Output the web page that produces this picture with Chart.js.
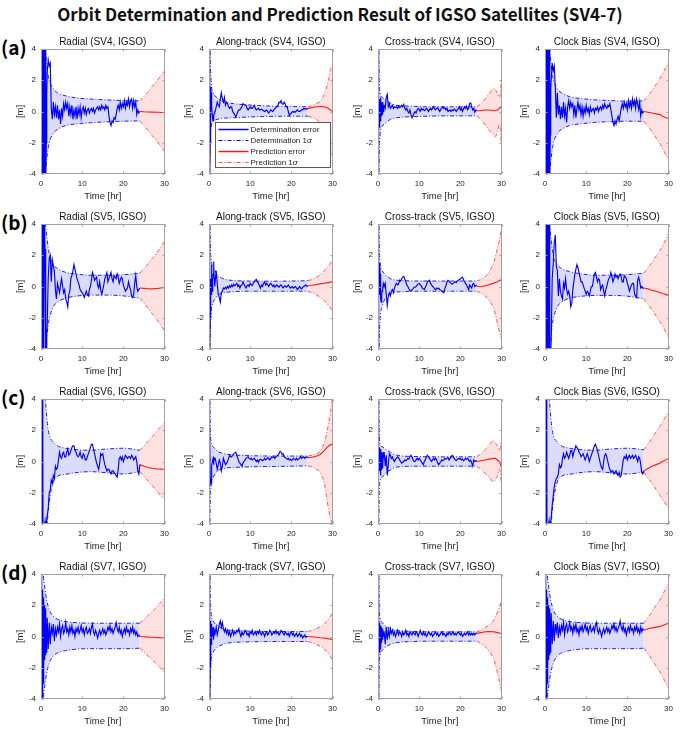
<!DOCTYPE html>
<html><head><meta charset="utf-8">
<script src="https://cdn.jsdelivr.net/npm/chart.js@4.4.1/dist/chart.umd.min.js"></script>
<style>
html,body{margin:0;padding:0;background:#fff;}
body{width:680px;height:730px;position:relative;overflow:hidden;}
#title{position:absolute;left:0;top:1px;width:680px;text-align:center;font-weight:bold;font-size:17px;font-family:'Noto Sans CJK KR','Noto Sans',sans-serif;color:#111;line-height:26px;}
.rowlab{position:absolute;left:1px;font-weight:bold;font-size:19px;font-family:'Noto Sans CJK KR','Noto Sans',sans-serif;color:#000;line-height:20px;}
canvas{position:absolute;}
</style></head><body>
<div id="title">Orbit Determination and Prediction Result of IGSO Satellites (SV4-7)</div>
<script>
// ---------- shared axes / categories ----------
const components = ['Radial','Along-track','Cross-track','Clock Bias'];
const satellites = ['SV4','SV5','SV6','SV7'];
const rowLabels = ['(a)','(b)','(c)','(d)'];
const xTicks = [0,10,20,30];
const yTicks = [-4,-2,0,2,4];
const sigT  = [0,0.2,0.5,1,1.5,2,3,4,6,9,12,16,20,24];
const predT = [24,25,26,27,28,28.5,29,29.5,30];

// ---------- row (a) SV4 ----------
const errEarlyA1 = [8,-8,7,-7,7,-7,6,-6,6,-6,5,-5,-4.5,-2,1];
const errA1 = [2.5,3.3,2.9,3.1,0.2,-0.5,0.6,-0.2,0.3,-0.4,
 0.4,-0.5,0.1,-0.8,0.2,-0.3,0.5,0.1,0.6,0.2,
 0.5,-0.3,0.3,-0.2,0.4,-0.5,0.1,-0.3,0.3,-0.5,
 0.2,-0.2,0.3,-0.4,0.1,0.3,-0.1,0.2,-0.2,0.1,
 0.2,-0.1,0.1,0.2,0.0,0.2,-0.1,0.1,0.2,0.3,
 0.1,0.3,0.1,0.4,0.2,0.3,0.1,0.4,0.2,0.3,
 -0.3,-0.7,-0.9,-0.6,-0.7,-0.4,-0.5,-0.2,0.2,0.4,
 0.1,0.6,0.2,0.5,0.3,0.7,0.2,0.6,0.4,0.8,
 0.3,0.7,0.8,0.2,0.7,0.3,0.6,-0.2,0.1,-0.1,
 0.0];
const sigUpA1 = [30,15,7,4.3,2.8,2.0,1.45,1.2,1.0,0.86,0.8,0.74,0.7,0.68];
const sigLoA1 = [-30,-15,-7,-4.3,-2.8,-2.0,-1.4,-1.15,-0.9,-0.78,-0.72,-0.66,-0.62,-0.6];
const predUpA1 = [0.68,0.95,1.25,1.6,1.9,2.08,2.25,2.42,2.6];
const predLoA1 = [-0.6,-0.9,-1.2,-1.55,-1.85,-2.02,-2.2,-2.38,-2.55];
const predErrA1 = [0,-0.02,-0.03,-0.04,-0.05,-0.05,-0.06,-0.06,-0.07];

const errEarlyA2 = [6,4.5,-4.5,-2,1.6,1.2,0.8,0.3,-0.2,-0.5,-0.6,-0.4,-0.3,-0.1,0.0];
const errA2 = [0.0,0.3,0.6,0.4,0.3,0.8,1.2,0.8,0.6,0.9,
 0.4,0.6,0.5,0.3,0.2,0.3,0.3,0.0,-0.1,-0.2,
 -0.35,-0.2,0.0,0.1,0.1,0.2,0.3,0.5,0.45,0.4,
 0.4,0.2,0.1,0.2,0.3,0.2,0.2,0.3,0.4,0.2,
 0.1,0.15,0.2,0.1,0.1,0.15,0.1,0.05,0.0,0.05,
 0.1,0.0,-0.1,0.0,0.1,0.05,0.0,0.1,0.2,0.25,
 0.3,0.4,0.6,0.55,0.7,0.5,0.45,0.6,0.5,0.3,
 0.3,0.0,-0.25,-0.15,-0.1,0.0,-0.05,0.0,-0.05,0.05,
 0.1,0.0,0.0,0.05,0.1,0.1,0.2,0.15,0.2,0.15,
 0.2];
const sigUpA2 = [20,6,2.0,1.2,1.0,0.86,0.7,0.6,0.5,0.43,0.38,0.34,0.32,0.3];
const sigLoA2 = [-20,-3,-1.0,-0.6,-0.55,-0.5,-0.45,-0.42,-0.4,-0.36,-0.33,-0.31,-0.3,-0.3];
const predUpA2 = [0.3,0.38,0.5,0.65,1.1,1.5,2.0,2.7,2.9];
const predLoA2 = [-0.3,-0.38,-0.5,-0.75,-1.3,-1.7,-2.2,-2.7,-2.8];
const predErrA2 = [0.2,0.25,0.3,0.32,0.3,0.25,0.2,0.1,0.0];

const errEarlyA3 = [4.5,-4.5,0.9,-1.0,0.8,-0.6,0.9,-0.5,0.6,-0.3,0.5,-0.2,0.6,0.0,0.4];
const errA3 = [0.4,0.2,0.9,1.1,0.3,0.5,0.2,0.3,0.4,0.2,
 0.3,0.25,0.3,0.2,0.35,0.25,0.3,0.4,0.3,0.45,
 0.2,0.1,0.2,0.0,-0.1,0.1,-0.2,-0.4,-0.3,-0.1,
 0.0,-0.1,0.1,0.2,0.1,0.0,0.2,0.1,0.15,0.05,
 0.1,0.2,0.15,0.0,0.1,0.2,0.1,0.2,0.3,0.15,
 0.1,0.2,0.25,0.1,0.0,0.15,0.2,0.3,0.2,0.25,
 0.1,0.2,0.0,0.05,0.1,0.0,0.1,0.05,0.15,0.1,
 0.0,0.1,0.2,0.3,0.1,0.2,0.0,0.15,0.3,0.2,
 0.35,0.1,0.2,0.5,0.55,0.3,0.1,0.2,-0.05,0.1,
 0.05];
const sigUpA3 = [20,4,1.2,0.9,0.8,0.7,0.55,0.42,0.36,0.33,0.3,0.3,0.3,0.3];
const sigLoA3 = [-20,-5,-1.5,-0.95,-0.8,-0.7,-0.5,-0.42,-0.36,-0.32,-0.3,-0.28,-0.28,-0.27];
const predUpA3 = [0.3,0.5,0.8,1.15,1.45,1.4,1.15,0.9,2.2];
const predLoA3 = [-0.27,-0.5,-0.85,-1.2,-1.5,-1.6,-1.3,-0.8,-2.2];
const predErrA3 = [0.05,0.05,0.1,0.1,0.05,0.05,0.1,0.2,0.35];

const errEarlyA4 = [8,-8,7,-7,7,-7,6,-6,6,-6,5,-5,-4.5,-1.5,1.5];
const errA4 = [2.0,3.1,2.6,2.9,1.5,-0.4,1.2,-0.2,0.4,-0.5,
 0.3,-0.4,0.6,-0.3,0.2,-0.7,0.3,0.7,0.2,0.6,
 0.3,0.5,-0.2,0.4,-0.4,0.2,0.6,0.1,0.4,-0.2,
 0.3,-0.3,0.2,-0.1,0.4,0.0,0.2,-0.2,0.3,0.0,
 0.1,0.2,-0.1,0.2,0.1,0.3,0.0,0.2,0.3,0.1,
 0.4,0.2,0.5,0.3,0.2,0.4,0.3,0.5,0.1,-0.3,
 -0.7,-0.9,-0.6,-0.8,-0.5,-0.3,-0.6,-0.2,0.2,0.5,
 0.2,0.6,0.3,0.5,0.1,0.7,0.3,0.6,0.2,0.8,
 0.4,0.7,0.2,0.8,0.5,0.1,0.6,-0.3,0.1,-0.1,
 0.0];
const sigUpA4 = [30,15,7,4.5,3.0,2.1,1.45,1.2,0.95,0.82,0.75,0.7,0.66,0.68];
const sigLoA4 = [-30,-15,-7,-4.5,-3.0,-2.1,-1.4,-1.15,-0.9,-0.78,-0.7,-0.65,-0.62,-0.63];
const predUpA4 = [0.68,1.0,1.35,1.75,2.15,2.4,2.65,2.9,3.2];
const predLoA4 = [-0.63,-0.95,-1.3,-1.7,-2.1,-2.35,-2.6,-2.85,-3.1];
const predErrA4 = [0,-0.05,-0.1,-0.15,-0.2,-0.3,-0.35,-0.4,-0.45];

// ---------- row (b) SV5 ----------
const errEarlyB1 = [8,-8,7,-7,7,-7,6,-6,5,3,2.4,-1,-4.5,-4.2,-3];
const errB1 = [-2.5,0.5,1.8,2.0,0.3,1.7,1.3,1.0,-0.2,-0.8,
 0.2,-0.1,-0.4,0.1,0.5,0.0,-0.4,-0.2,-0.8,-1.0,
 -1.3,-0.5,-0.3,0.5,0.7,1.0,1.4,1.1,0.8,0.5,
 0.3,0.1,-0.2,-0.3,-0.4,-0.5,-0.7,-0.5,-0.3,-0.5,
 -0.6,-0.2,0.0,0.4,0.9,0.7,0.4,0.5,0.6,0.1,
 -0.1,0.3,-0.2,-0.5,-0.2,0.1,0.5,0.7,0.9,0.3,
 0.5,0.7,0.9,0.5,0.3,0.7,0.6,0.5,0.8,0.6,
 0.2,0.4,0.6,0.5,0.1,-0.1,-0.3,-0.2,-0.1,0.3,
 0.0,-0.2,-0.6,-0.7,-0.5,0.2,0.7,0.0,-0.3,-0.2,
 -0.1];
const sigUpB1 = [30,12,6,4.2,3.0,2.1,1.4,1.15,0.9,0.78,0.72,0.72,0.75,0.85];
const sigLoB1 = [-30,-12,-6,-4.2,-3.0,-2.1,-1.3,-1.0,-0.75,-0.6,-0.55,-0.55,-0.6,-0.75];
const predUpB1 = [0.85,1.15,1.45,1.8,2.1,2.3,2.5,2.7,2.9];
const predLoB1 = [-0.75,-1.05,-1.4,-1.75,-2.05,-2.25,-2.45,-2.65,-2.85];
const predErrB1 = [-0.1,-0.12,-0.14,-0.15,-0.13,-0.12,-0.1,-0.08,-0.06];

const errEarlyB2 = [6,4,-4.5,-2,0.5,-0.5,1.4,0.5,-0.3,0.4,0.8,1.6,1.2,0.5,0.0];
const errB2 = [0.3,1.0,0.2,-0.5,-0.7,-1.0,-0.4,-0.3,-0.1,-0.15,
 -0.05,-0.15,0.0,-0.1,0.05,-0.05,0.1,0.0,0.15,0.05,
 0.1,0.2,0.0,0.1,-0.1,0.05,0.1,0.3,0.15,0.0,
 -0.1,0.05,0.1,0.0,0.2,0.1,0.05,0.2,0.3,0.4,
 0.45,0.3,0.2,0.05,-0.1,0.1,0.0,0.2,0.3,0.1,
 0.2,0.1,0.0,0.15,0.2,0.1,0.0,0.1,-0.05,0.05,
 0.1,0.0,-0.05,0.05,0.1,0.0,-0.1,0.0,0.05,-0.05,
 0.0,0.1,0.0,-0.1,-0.05,0.0,-0.1,-0.05,0.0,-0.1,
 -0.2,-0.1,0.0,-0.1,-0.15,-0.05,0.0,0.05,0.1,0.0,
 0.05];
const sigUpB2 = [20,5,1.8,1.3,1.0,0.75,0.55,0.45,0.38,0.35,0.34,0.34,0.35,0.37];
const sigLoB2 = [-20,-5,-1.8,-1.0,-0.8,-0.6,-0.45,-0.38,-0.33,-0.3,-0.3,-0.3,-0.3,-0.3];
const predUpB2 = [0.37,0.45,0.58,0.75,1.0,1.15,1.3,1.5,1.72];
const predLoB2 = [-0.3,-0.4,-0.52,-0.7,-0.92,-1.05,-1.2,-1.38,-1.55];
const predErrB2 = [0.05,0.08,0.12,0.17,0.21,0.23,0.25,0.28,0.3];

const errEarlyB3 = [5,-4.5,1.6,-0.5,1.5,0.8,-0.3,-0.8,-1.0,-0.6,-0.3,0.0,-0.2,0.2,0.1];
const errB3 = [0.0,0.2,-0.5,-1.2,-0.6,-0.4,-0.6,-0.3,-0.2,-0.4,
 -0.1,0.1,0.2,0.1,0.15,0.4,0.35,0.5,0.6,0.65,
 0.5,0.3,0.1,0.0,-0.15,-0.25,-0.3,-0.2,-0.15,-0.05,
 -0.05,0.0,0.1,0.15,0.2,0.1,0.05,-0.1,-0.15,-0.2,
 -0.05,0.1,0.3,0.35,0.4,0.2,0.1,0.0,-0.05,-0.15,
 -0.2,-0.1,-0.15,-0.1,-0.2,-0.25,-0.3,-0.35,-0.4,-0.1,
 0.05,0.3,0.4,0.35,0.25,0.2,0.15,0.2,0.25,0.3,
 0.25,0.35,0.4,0.45,0.5,0.55,0.6,0.45,0.3,0.2,
 0.1,-0.05,-0.2,0.1,0.0,-0.1,0.15,0.2,0.0,0.05,
 0.1];
const sigUpB3 = [20,5,1.5,1.0,0.85,0.7,0.5,0.42,0.38,0.35,0.35,0.35,0.35,0.35];
const sigLoB3 = [-20,-6,-2.2,-1.3,-0.9,-0.65,-0.45,-0.37,-0.33,-0.3,-0.3,-0.3,-0.3,-0.3];
const predUpB3 = [0.35,0.45,0.62,0.95,1.45,1.9,2.45,3.05,3.7];
const predLoB3 = [-0.3,-0.42,-0.6,-0.9,-1.35,-1.8,-2.35,-2.9,-3.4];
const predErrB3 = [0.0,-0.02,0.05,0.12,0.2,0.25,0.3,0.38,0.44];

const errEarlyB4 = [8,-8,7,-7,7,-7,6,-6,6,-5,4,-3,-4.5,-4.5,-4.2];
const errB4 = [-3.5,0.5,1.5,2.8,3.3,1.3,1.0,-0.6,0.5,-0.3,
 -0.6,-0.8,0.2,-0.1,0.5,-0.2,-0.5,-0.3,-0.6,-1.3,
 -1.1,-0.2,0.3,0.8,1.1,1.4,1.2,0.9,0.6,0.3,
 0.3,0.1,-0.1,-0.3,-0.5,-0.3,-0.4,-0.6,-0.3,0.0,
 0.0,0.4,0.8,0.9,0.6,0.3,0.5,0.4,-0.2,0.0,
 0.1,-0.3,-0.6,-0.2,0.0,0.3,0.5,0.6,0.9,0.6,
 0.3,0.5,0.8,0.6,0.7,0.5,0.7,0.8,0.6,0.3,
 0.3,0.7,0.6,0.5,0.2,0.0,-0.3,-0.1,0.1,0.2,
 0.2,-0.5,-0.6,-0.7,0.4,0.6,0.3,-0.1,0.0,-0.1,
 -0.1];
const sigUpB4 = [30,12,6,4.2,3.0,2.0,1.4,1.15,0.95,0.8,0.72,0.72,0.76,0.85];
const sigLoB4 = [-30,-12,-6,-4.2,-3.0,-2.1,-1.3,-1.0,-0.75,-0.62,-0.57,-0.57,-0.62,-0.78];
const predUpB4 = [0.85,1.2,1.55,1.95,2.35,2.6,2.85,3.1,3.4];
const predLoB4 = [-0.78,-1.15,-1.5,-1.9,-2.3,-2.5,-2.75,-3.0,-3.3];
const predErrB4 = [-0.1,-0.15,-0.25,-0.3,-0.4,-0.45,-0.48,-0.52,-0.57];

// ---------- row (c) SV6 ----------
const errEarlyC1 = [8,-8,7,-7,6,-6,-5,-4.5,-4.2,-4.0,-3.8,-4.2,-3.9,-4.1,-3.7];
const errC1 = [-3.5,-3.0,-2.0,-1.8,-1.2,-1.4,-0.9,-1.1,-0.3,-0.5,
 -0.4,0.1,0.6,0.3,0.2,0.5,0.6,0.3,0.3,0.6,
 0.8,0.4,0.5,0.7,0.9,1.0,1.0,0.7,0.6,0.4,
 0.3,0.4,0.6,0.3,0.2,0.5,0.4,0.1,0.1,0.3,
 0.5,0.7,0.9,1.1,1.1,0.8,0.5,0.2,-0.1,-0.3,
 -0.5,-0.1,0.5,0.4,0.5,0.1,-0.2,-0.4,-0.6,-0.5,
 -0.5,-0.7,-0.8,-0.6,-0.6,-0.7,-0.8,-0.9,-1.0,-0.5,
 0.2,0.3,0.1,0.3,0.0,0.2,0.4,0.3,0.2,0.3,
 0.3,0.2,0.4,0.3,0.1,0.2,0.3,0.0,-0.6,-0.8,
 -0.2];
const sigUpC1 = [40,20,9,4.5,2.6,1.7,1.25,1.0,0.85,0.75,0.72,0.8,0.85,0.72];
const sigLoC1 = [-40,-20,-9,-6,-4.0,-2.6,-1.3,-0.95,-0.82,-0.7,-0.65,-0.72,-0.8,-0.65];
const predUpC1 = [0.72,1.0,1.3,1.6,1.9,2.05,2.2,2.35,2.5];
const predLoC1 = [-0.65,-0.95,-1.25,-1.55,-1.85,-2.0,-2.15,-2.3,-2.4];
const predErrC1 = [-0.2,-0.3,-0.38,-0.43,-0.47,-0.48,-0.49,-0.5,-0.5];

const errEarlyC2 = [6,4.5,2,-1.3,-1.4,-1.2,-1.3,-0.3,0.0,0.1,0.2,-0.2,0.3,0.1,0.2];
const errC2 = [0.2,-0.1,-0.5,-0.2,0.1,-0.1,-0.6,-0.3,0.2,0.0,
 -0.2,-0.1,0.0,0.2,0.4,0.3,0.3,0.4,0.5,0.55,
 0.6,0.4,0.2,0.0,-0.1,-0.2,-0.3,-0.1,0.0,0.1,
 0.2,0.25,0.3,0.2,0.15,0.2,0.1,0.15,0.2,0.1,
 0.0,0.1,-0.05,0.1,0.15,0.1,0.05,0.1,0.2,0.1,
 0.15,0.25,0.2,0.1,0.2,0.3,0.25,0.3,0.2,0.3,
 0.35,0.4,0.5,0.65,0.6,0.45,0.5,0.3,0.25,0.2,
 0.15,0.2,0.1,0.15,0.05,0.1,0.2,0.15,0.1,0.2,
 0.1,0.15,0.2,0.3,0.2,0.25,0.3,0.2,0.25,0.3,
 0.25];
const sigUpC2 = [20,4,1.3,0.95,0.8,0.65,0.55,0.48,0.42,0.38,0.36,0.35,0.35,0.35];
const sigLoC2 = [-20,-5,-1.5,-1.0,-0.8,-0.6,-0.5,-0.42,-0.38,-0.35,-0.33,-0.32,-0.3,-0.28];
const predUpC2 = [0.35,0.4,0.5,0.65,1.2,1.7,2.4,3.2,4.1];
const predLoC2 = [-0.28,-0.35,-0.5,-0.7,-1.4,-2.2,-3.0,-3.6,-4.1];
const predErrC2 = [0.25,0.27,0.33,0.45,0.7,0.85,0.98,1.08,1.1];

const errEarlyC3 = [4.5,3,-0.8,0.9,-0.6,0.7,-0.9,0.8,-0.5,0.6,-0.4,0.5,-0.3,0.6,0.2];
const errC3 = [0.6,-0.3,0.4,-0.9,-0.2,0.5,0.4,0.2,0.3,0.1,
 0.0,0.15,0.2,0.3,0.25,0.1,0.0,-0.1,-0.05,0.0,
 0.1,0.05,0.1,0.2,0.15,0.3,0.4,0.3,0.1,0.0,
 0.0,0.1,0.2,0.1,0.2,0.1,0.0,-0.1,-0.2,0.0,
 0.1,0.3,0.4,0.3,0.2,0.1,0.0,0.1,0.2,0.1,
 0.2,0.1,-0.1,-0.2,-0.1,0.0,0.1,0.05,0.1,0.2,
 0.15,0.2,0.25,0.1,0.2,0.3,0.4,0.35,0.2,0.1,
 0.05,0.15,0.2,0.15,0.2,0.1,0.15,0.05,0.1,0.2,
 0.15,0.2,0.1,0.0,0.1,-0.1,-0.3,0.1,0.0,0.05,
 0.0];
const sigUpC3 = [20,4,1.1,0.95,0.85,0.75,0.6,0.45,0.35,0.32,0.3,0.3,0.3,0.3];
const sigLoC3 = [-20,-5,-1.2,-1.0,-0.85,-0.7,-0.55,-0.4,-0.32,-0.3,-0.3,-0.3,-0.3,-0.3];
const predUpC3 = [0.3,0.5,0.75,1.05,1.35,1.2,1.0,0.7,1.4];
const predLoC3 = [-0.3,-0.5,-0.75,-1.0,-1.3,-1.15,-0.95,-0.5,-1.5];
const predErrC3 = [0.0,0.05,0.1,0.15,0.2,0.2,0.1,0.0,-0.4];

const errEarlyC4 = [8,-8,7,-7,6,-6,-5,-4.5,-4.2,-4.0,-3.8,-4.2,-3.9,-4.1,-3.8];
const errC4 = [-3.6,-2.8,-2.2,-1.6,-1.3,-1.1,-1.0,-0.8,-0.2,-0.4,
 -0.3,0.2,0.5,0.2,0.3,0.6,0.4,0.2,0.4,0.7,
 0.7,0.3,0.6,0.8,1.0,0.9,0.8,0.6,0.5,0.3,
 0.4,0.5,0.3,0.1,0.3,0.5,0.3,0.0,0.2,0.4,
 0.6,0.8,1.0,1.1,0.9,0.7,0.4,0.1,-0.2,-0.4,
 -0.5,0.0,0.4,0.5,0.3,0.0,-0.3,-0.5,-0.7,-0.6,
 -0.6,-0.8,-0.7,-0.6,-0.8,-0.9,-0.7,-1.0,-0.9,-0.4,
 0.1,0.3,0.2,0.4,0.1,0.3,0.4,0.2,0.3,0.4,
 0.2,0.3,0.4,0.2,0.0,0.3,0.2,-0.2,-0.7,-0.8,
 -0.6];
const sigUpC4 = [40,20,9,4.5,2.6,1.7,1.25,1.0,0.85,0.75,0.72,0.8,0.85,0.75];
const sigLoC4 = [-40,-20,-9,-6,-4.0,-2.6,-1.3,-0.95,-0.82,-0.7,-0.65,-0.72,-0.8,-0.68];
const predUpC4 = [0.75,1.1,1.5,1.9,2.3,2.5,2.75,2.95,3.2];
const predLoC4 = [-0.68,-1.05,-1.4,-1.8,-2.2,-2.4,-2.6,-2.8,-3.0];
const predErrC4 = [-0.6,-0.45,-0.3,-0.2,-0.1,0.0,0.05,0.12,0.2];

// ---------- row (d) SV7 ----------
const errEarlyD1 = [6,-6,4,-4,3,-3,2.5,-2,2,-1.5,1.8,-1.2,1.5,-1.0,0.5];
const errD1 = [1.2,-0.8,0.9,-0.5,0.6,0.2,0.8,-0.3,0.5,0.1,
 0.6,0.3,0.8,0.0,0.5,0.7,0.2,0.4,0.9,0.3,
 0.5,0.1,0.6,0.3,0.7,0.2,0.4,0.0,0.5,0.3,
 0.6,0.2,0.4,0.7,0.3,0.5,0.1,0.4,0.6,0.2,
 0.3,0.5,0.2,0.6,0.8,0.3,0.1,0.4,0.2,-0.1,
 0.2,0.4,0.1,0.3,0.5,0.2,0.4,0.1,0.3,0.6,
 0.4,0.7,0.3,0.5,0.2,0.4,0.6,0.9,0.5,0.3,
 0.6,0.2,0.4,0.0,0.3,0.5,0.2,0.6,0.3,0.4,
 0.1,0.5,0.3,0.6,0.2,0.4,0.1,0.3,0.0,0.1,
 0.0];
const sigUpD1 = [20,8,4.5,3.0,2.2,1.7,1.3,1.1,0.95,0.88,0.85,0.85,0.85,0.85];
const sigLoD1 = [-20,-8,-4.5,-3.0,-2.2,-1.7,-1.25,-1.05,-0.9,-0.8,-0.78,-0.78,-0.78,-0.75];
const predUpD1 = [0.85,1.1,1.35,1.6,1.85,2.0,2.15,2.3,2.5];
const predLoD1 = [-0.75,-1.0,-1.25,-1.5,-1.75,-1.9,-2.0,-2.15,-2.3];
const predErrD1 = [0.0,-0.02,-0.04,-0.05,-0.06,-0.07,-0.08,-0.08,-0.1];

const errEarlyD2 = [6,4,-4.5,-2,1.0,-0.5,0.8,-0.3,0.5,0.0,0.6,-0.2,0.4,0.1,0.3];
const errD2 = [0.2,0.6,0.1,0.4,0.8,1.0,0.6,0.9,0.5,0.3,
 0.5,0.2,0.4,0.1,0.3,0.0,0.2,0.4,0.1,0.3,
 0.2,0.4,0.3,0.5,0.2,0.0,0.3,0.1,0.2,0.4,
 0.3,0.1,0.2,0.0,0.3,0.2,0.4,0.1,0.2,0.3,
 0.1,0.3,0.2,0.4,0.2,0.1,0.3,0.2,0.0,0.2,
 0.3,0.1,0.2,0.4,0.3,0.1,0.2,0.3,0.2,0.4,
 0.2,0.3,0.1,0.2,0.4,0.3,0.2,0.1,0.3,0.2,
 0.1,0.2,0.0,0.2,0.3,0.1,0.2,0.0,0.1,0.2,
 0.0,0.1,0.2,0.0,0.1,-0.1,0.0,0.1,-0.05,0.0,
 0.0];
const sigUpD2 = [20,5,1.5,1.0,0.8,0.7,0.55,0.45,0.38,0.35,0.33,0.32,0.32,0.32];
const sigLoD2 = [-20,-5,-1.5,-1.0,-0.8,-0.7,-0.55,-0.45,-0.38,-0.35,-0.33,-0.32,-0.32,-0.32];
const predUpD2 = [0.32,0.4,0.5,0.62,0.8,0.95,1.1,1.3,1.5];
const predLoD2 = [-0.32,-0.4,-0.5,-0.62,-0.8,-0.95,-1.1,-1.3,-1.5];
const predErrD2 = [0.0,-0.02,-0.05,-0.08,-0.1,-0.12,-0.14,-0.17,-0.2];

const errEarlyD3 = [5,-4.5,1.2,-1.0,0.9,-0.8,0.7,-0.6,0.6,-0.4,0.5,-0.2,0.4,0.0,0.3];
const errD3 = [0.3,-0.5,0.6,-0.2,0.4,0.0,0.5,0.2,0.4,0.1,
 0.3,0.0,0.2,0.4,0.1,0.3,0.2,0.0,0.3,0.1,
 0.2,0.4,0.1,0.2,0.0,0.3,0.2,0.1,0.3,0.2,
 0.1,0.3,0.2,0.0,0.2,0.4,0.2,0.1,0.3,0.1,
 0.2,0.0,0.1,0.3,0.2,0.1,0.2,0.0,0.1,0.2,
 0.3,0.1,0.2,0.0,0.1,0.2,0.3,0.1,0.2,0.1,
 0.0,0.2,0.1,0.3,0.2,0.1,0.2,0.3,0.1,0.2,
 0.1,0.2,0.3,0.2,0.1,0.2,0.0,0.1,0.2,0.1,
 0.2,0.3,0.1,0.2,0.1,0.2,0.1,0.2,0.1,0.2,
 0.2];
const sigUpD3 = [20,4,1.2,0.9,0.75,0.65,0.5,0.42,0.35,0.32,0.3,0.3,0.3,0.3];
const sigLoD3 = [-20,-4,-1.2,-0.9,-0.75,-0.65,-0.5,-0.42,-0.35,-0.32,-0.3,-0.3,-0.3,-0.3];
const predUpD3 = [0.3,0.4,0.55,0.75,1.0,1.25,1.55,1.9,2.3];
const predLoD3 = [-0.3,-0.45,-0.65,-0.95,-1.4,-1.8,-2.3,-2.9,-3.5];
const predErrD3 = [0.2,0.25,0.3,0.32,0.3,0.28,0.25,0.22,0.2];

const errEarlyD4 = [6,-6,4,-4,3,-3,2.5,-2,2,-1.5,1.8,-1.2,1.5,-1.0,0.5];
const errD4 = [1.5,-0.5,1.0,-0.3,0.8,0.3,0.9,-0.1,0.6,0.2,
 0.7,0.4,0.9,0.1,0.6,0.8,0.3,0.5,0.9,0.4,
 0.6,0.2,0.7,0.4,0.8,0.3,0.5,0.1,0.6,0.4,
 0.7,0.3,0.5,0.8,0.4,0.6,0.2,0.5,0.7,0.3,
 0.4,0.6,0.3,0.7,0.9,0.4,0.2,0.5,0.3,0.0,
 0.3,0.5,0.2,0.4,0.6,0.3,0.5,0.2,0.4,0.7,
 0.5,0.8,0.4,0.6,0.3,0.5,0.7,1.0,0.6,0.4,
 0.7,0.3,0.5,0.1,0.4,0.6,0.3,0.7,0.4,0.5,
 0.2,0.6,0.4,0.7,0.3,0.5,0.2,0.6,0.3,0.5,
 0.4];
const sigUpD4 = [20,8,4.5,3.0,2.2,1.7,1.3,1.1,0.95,0.88,0.85,0.85,0.85,0.85];
const sigLoD4 = [-20,-8,-4.5,-3.0,-2.2,-1.7,-1.25,-1.05,-0.9,-0.8,-0.78,-0.78,-0.78,-0.75];
const predUpD4 = [0.85,1.2,1.6,2.0,2.4,2.65,2.9,3.15,3.4];
const predLoD4 = [-0.75,-1.1,-1.5,-1.9,-2.3,-2.55,-2.8,-3.05,-3.3];
const predErrD4 = [0.4,0.5,0.55,0.6,0.65,0.7,0.75,0.8,0.85];

// ---------- assemble panel table ----------
const panelData = [
 [[errEarlyA1,errA1,sigUpA1,sigLoA1,predUpA1,predLoA1,predErrA1],
  [errEarlyA2,errA2,sigUpA2,sigLoA2,predUpA2,predLoA2,predErrA2],
  [errEarlyA3,errA3,sigUpA3,sigLoA3,predUpA3,predLoA3,predErrA3],
  [errEarlyA4,errA4,sigUpA4,sigLoA4,predUpA4,predLoA4,predErrA4]],
 [[errEarlyB1,errB1,sigUpB1,sigLoB1,predUpB1,predLoB1,predErrB1],
  [errEarlyB2,errB2,sigUpB2,sigLoB2,predUpB2,predLoB2,predErrB2],
  [errEarlyB3,errB3,sigUpB3,sigLoB3,predUpB3,predLoB3,predErrB3],
  [errEarlyB4,errB4,sigUpB4,sigLoB4,predUpB4,predLoB4,predErrB4]],
 [[errEarlyC1,errC1,sigUpC1,sigLoC1,predUpC1,predLoC1,predErrC1],
  [errEarlyC2,errC2,sigUpC2,sigLoC2,predUpC2,predLoC2,predErrC2],
  [errEarlyC3,errC3,sigUpC3,sigLoC3,predUpC3,predLoC3,predErrC3],
  [errEarlyC4,errC4,sigUpC4,sigLoC4,predUpC4,predLoC4,predErrC4]],
 [[errEarlyD1,errD1,sigUpD1,sigLoD1,predUpD1,predLoD1,predErrD1],
  [errEarlyD2,errD2,sigUpD2,sigLoD2,predUpD2,predLoD2,predErrD2],
  [errEarlyD3,errD3,sigUpD3,sigLoD3,predUpD3,predLoD3,predErrD3],
  [errEarlyD4,errD4,sigUpD4,sigLoD4,predUpD4,predLoD4,predErrD4]]
];

// ---------- styling ----------
const BLUE = '#0000ff', BLUE_FILL = 'rgba(0,0,230,0.14)';
const RED = '#ff1a1a', RED_SIG = '#ff4a4a', RED_FILL = 'rgba(240,0,0,0.12)';
const DASHDOT = [4,2,1,2];
const FONT = "'Liberation Sans', Arial, sans-serif";
const plotLeft = [41,209,378,545];
const plotTop = [49,224,399,574];
const PW = 127, YW = 32, TITLE_H = 22, XH = 31, RP = 6;

const boxPlugin = {
  id:'matlabBox',
  afterDatasetsDraw(chart){
    const {ctx, chartArea:a} = chart;
    const xs = chart.scales.x, ys = chart.scales.y;
    ctx.save();
    ctx.strokeStyle = '#a0a0a0'; ctx.lineWidth = 1;
    const l = Math.round(a.left)+0.5, r = Math.round(a.right)-0.5;
    const t = Math.round(a.top)+0.5, b = Math.round(a.bottom)-0.5;
    ctx.strokeRect(l, t, r-l, b-t);
    ctx.beginPath();
    xTicks.forEach(v=>{ const x = Math.round(xs.getPixelForValue(v))+0.5;
      ctx.moveTo(x,b); ctx.lineTo(x,b-2); ctx.moveTo(x,t); ctx.lineTo(x,t+2); });
    yTicks.forEach(v=>{ const y = Math.round(ys.getPixelForValue(v))+0.5;
      ctx.moveTo(l,y); ctx.lineTo(l+2,y); ctx.moveTo(r,y); ctx.lineTo(r-2,y); });
    ctx.stroke();
    ctx.restore();
  },
  afterDraw(chart){
    if (!chart.options.plugins.matlabBox || !chart.options.plugins.matlabBox.legend) return;
    const {ctx, chartArea:a} = chart;
    const bx = Math.round(a.left+6)+0.5, by = Math.round(a.top+72.5)+0.5, bw = 115, bh = 45;
    ctx.save();
    ctx.fillStyle = '#fff'; ctx.fillRect(bx,by,bw,bh);
    ctx.strokeStyle = '#333'; ctx.lineWidth = 0.8; ctx.strokeRect(bx,by,bw,bh);
    const items = [
      {t:'Determination error', sig:false, c:BLUE, d:[], w:1.5},
      {t:'Determination 1', sig:true, c:BLUE, d:DASHDOT, w:1},
      {t:'Prediction error', sig:false, c:RED, d:[], w:1.5},
      {t:'Prediction 1', sig:true, c:RED_SIG, d:DASHDOT, w:1}
    ];
    items.forEach((it,i)=>{
      const y = by + 7 + i*11;
      ctx.beginPath(); ctx.setLineDash(it.d); ctx.strokeStyle = it.c; ctx.lineWidth = it.w;
      ctx.moveTo(bx+3,y); ctx.lineTo(bx+33,y); ctx.stroke(); ctx.setLineDash([]);
      ctx.fillStyle = '#222'; ctx.textBaseline = 'middle'; ctx.textAlign = 'left';
      ctx.font = "8px " + FONT;
      ctx.fillText(it.t, bx+35, y);
      if (it.sig){ const w = ctx.measureText(it.t).width; ctx.font = "italic 8px " + FONT; ctx.fillText('\u03c3', bx+35+w, y); }
    });
    ctx.restore();
  }
};

function pts(ts, vs){ return vs.map((v,i)=>({x:ts[i], y:v})); }

function makePanel(r, c){
  const [early, late, up, lo, pUp, pLo, pErr] = panelData[r][c];
  const det = [];
  early.forEach((v,i)=>det.push({x:1.5*i/early.length, y:v}));
  late.forEach((v,i)=>det.push({x:1.5+22.5*i/(late.length-1), y:v}));
  const cv = document.createElement('canvas');
  const W = YW + PW + RP, H = TITLE_H + 125 + XH;
  cv.width = W; cv.height = H;
  cv.style.left = (plotLeft[c]-YW)+'px';
  cv.style.top = (plotTop[r]-TITLE_H)+'px';
  cv.style.width = W+'px'; cv.style.height = H+'px';
  document.body.appendChild(cv);
  const line = {pointRadius:0, pointHoverRadius:0, tension:0, spanGaps:true};
  new Chart(cv.getContext('2d'), {
    type:'line',
    data:{datasets:[
      Object.assign({label:'Determination error', data:det, borderColor:BLUE, borderWidth:1.15, fill:false}, line),
      Object.assign({label:'Prediction error', data:pts(predT,pErr), borderColor:RED, borderWidth:1.1, fill:false}, line),
      Object.assign({label:'Determination 1\u03c3', data:pts(sigT,up), borderColor:BLUE, borderWidth:0.9, borderDash:DASHDOT, fill:3, backgroundColor:BLUE_FILL, cubicInterpolationMode:'monotone'}, line),
      Object.assign({label:'Determination 1\u03c3 (lower)', data:pts(sigT,lo), borderColor:BLUE, borderWidth:0.9, borderDash:DASHDOT, fill:false, cubicInterpolationMode:'monotone'}, line),
      Object.assign({label:'Prediction 1\u03c3', data:pts(predT,pUp), borderColor:RED_SIG, borderWidth:0.9, borderDash:DASHDOT, fill:5, backgroundColor:RED_FILL, cubicInterpolationMode:'monotone'}, line),
      Object.assign({label:'Prediction 1\u03c3 (lower)', data:pts(predT,pLo), borderColor:RED_SIG, borderWidth:0.9, borderDash:DASHDOT, fill:false, cubicInterpolationMode:'monotone'}, line)
    ]},
    options:{
      responsive:false, animation:false, devicePixelRatio:1, events:[],
      layout:{padding:{left:0,right:RP,top:0,bottom:0}},
      plugins:{
        legend:{display:false}, tooltip:{enabled:false},
        title:{display:true, fullSize:false, text:components[c]+' ('+satellites[r]+', IGSO)', color:'#111',
               font:{family:FONT, size:10, weight:'normal', lineHeight:1.2}, padding:{top:9,bottom:1}},
        matlabBox:{legend: (r===0 && c===1)}
      },
      scales:{
        x:{type:'linear', min:0, max:30,
           afterBuildTicks:(s)=>{ s.ticks = xTicks.map(v=>({value:v})); },
           afterFit:(s)=>{ s.height = XH; },
           grid:{display:false, drawTicks:false}, border:{display:false},
           ticks:{font:{family:FONT,size:8}, color:'#262626', padding:5, maxRotation:0},
           title:{display:true, text:'Time [hr]', color:'#262626', font:{family:FONT,size:9.5}, padding:{top:0,bottom:3}}},
        y:{min:-4, max:4,
           afterBuildTicks:(s)=>{ s.ticks = yTicks.map(v=>({value:v})); },
           afterFit:(s)=>{ s.width = YW; },
           grid:{display:false, drawTicks:false}, border:{display:false},
           ticks:{font:{family:FONT,size:8}, color:'#262626', padding:5},
           title:{display:true, text:'[m]', color:'#262626', font:{family:FONT,size:9.5}, padding:{top:6,bottom:0}}}
      }
    },
    plugins:[boxPlugin]
  });
}

rowLabels.forEach((t,r)=>{
  const d = document.createElement('div');
  d.className = 'rowlab'; d.textContent = t;
  d.style.top = (plotTop[r]-12)+'px';
  document.body.appendChild(d);
});
for (let r=0;r<4;r++) for (let c=0;c<4;c++) makePanel(r,c);
</script>
</body></html>
